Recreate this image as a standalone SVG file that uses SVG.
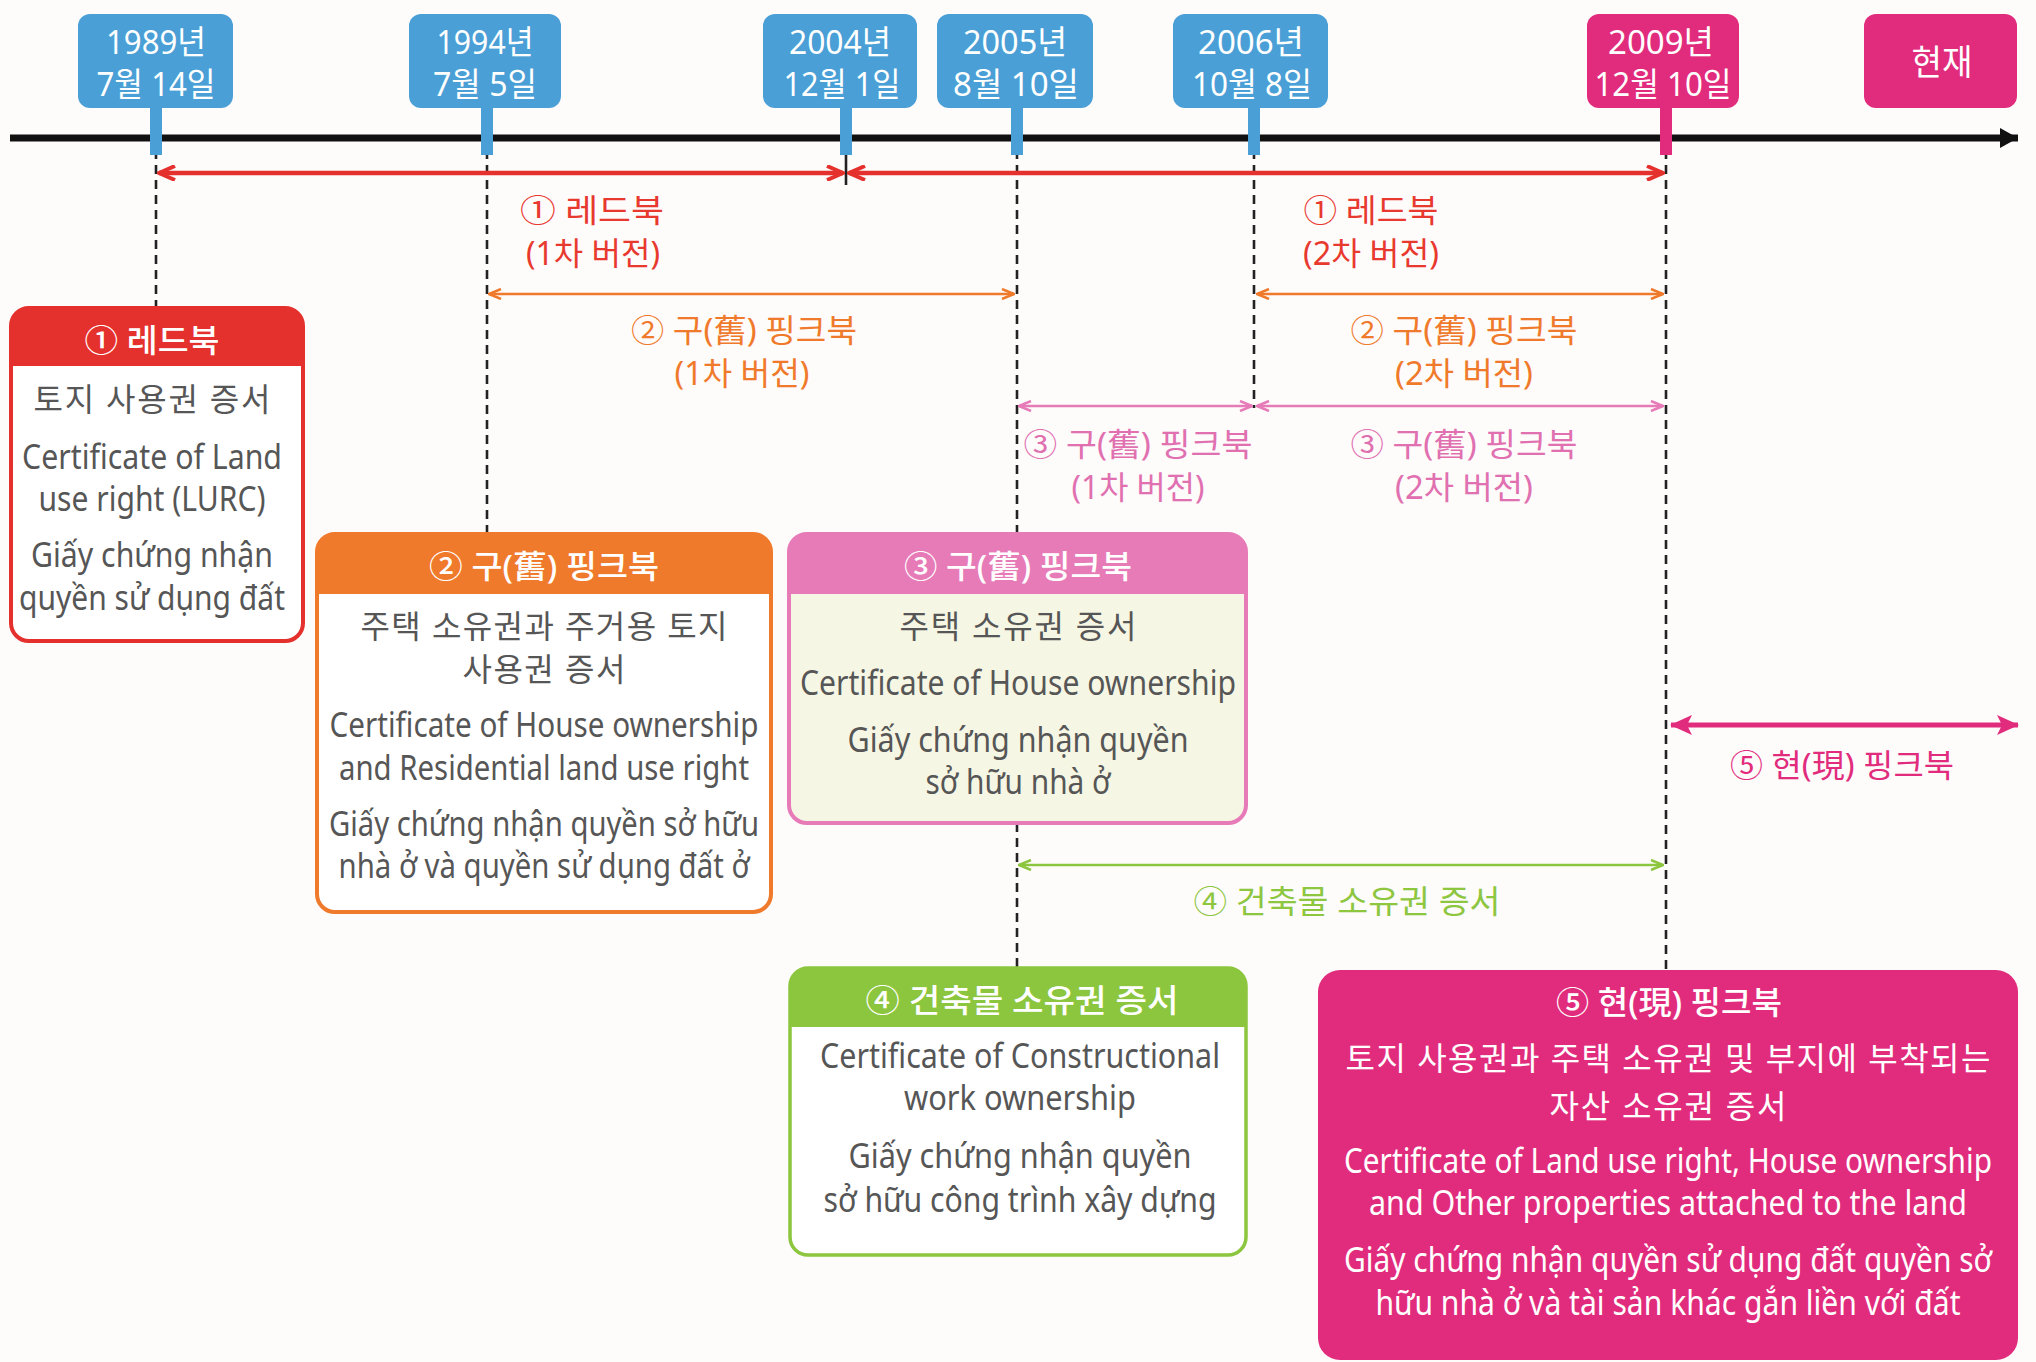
<svg xmlns="http://www.w3.org/2000/svg" width="2036" height="1362" viewBox="0 0 2036 1362">
<defs>
<style>
text{font-family:"Noto Sans","Noto Sans CJK KR",sans-serif;text-anchor:middle}
.date{font-size:33px;fill:#fff}
.body{font-size:34px;fill:#565656}
.kb{font-size:32px;fill:#565656}
.hd{font-size:32px;fill:#fff;font-weight:500}
.lbl{font-size:32px}
.wt{fill:#fff}
.dash{stroke:#222;stroke-width:2.6;stroke-dasharray:9 6;fill:none}
.blue{fill:#4a9fd6}
.mag{fill:#e12c7d}
</style>
<marker id="mRed" viewBox="0 0 20 16" refX="18" refY="8" markerWidth="20" markerHeight="16" markerUnits="userSpaceOnUse" orient="auto-start-reverse"><path d="M2,1 L18,8 L2,15" fill="none" stroke="#e5312d" stroke-width="4"/></marker>
<marker id="mOr" viewBox="0 0 14 12" refX="13" refY="6" markerWidth="14" markerHeight="12" markerUnits="userSpaceOnUse" orient="auto-start-reverse"><path d="M1,1 L13,6 L1,11" fill="none" stroke="#f07a2b" stroke-width="2.5"/></marker>
<marker id="mPk" viewBox="0 0 14 12" refX="13" refY="6" markerWidth="14" markerHeight="12" markerUnits="userSpaceOnUse" orient="auto-start-reverse"><path d="M1,1 L13,6 L1,11" fill="none" stroke="#e77bb8" stroke-width="2.5"/></marker>
<marker id="mGr" viewBox="0 0 14 12" refX="13" refY="6" markerWidth="14" markerHeight="12" markerUnits="userSpaceOnUse" orient="auto-start-reverse"><path d="M1,1 L13,6 L1,11" fill="none" stroke="#8cc63e" stroke-width="2.5"/></marker>
<marker id="mMag" viewBox="0 0 22 20" refX="21" refY="10" markerWidth="22" markerHeight="20" markerUnits="userSpaceOnUse" orient="auto-start-reverse"><path d="M0,0 L22,10 L0,20 L5,10 Z" fill="#e12c7d"/></marker>
<marker id="mAx" viewBox="0 0 18 20" refX="18" refY="10" markerWidth="18" markerHeight="20" markerUnits="userSpaceOnUse" orient="auto"><path d="M0,0 L18,10 L0,20 Z" fill="#111"/></marker>
</defs>
<rect x="0" y="0" width="2036" height="1362" fill="#fefbfb"/>

<g id="connectors">
<line x1="10" y1="138" x2="2018" y2="138" stroke="#111" stroke-width="7" marker-end="url(#mAx)"/>
<line class="dash" x1="156" y1="150" x2="156" y2="308"/>
<line class="dash" x1="487" y1="150" x2="487" y2="534"/>
<line x1="846" y1="150" x2="846" y2="185" stroke="#222" stroke-width="2.6"/>
<line class="dash" x1="1017" y1="150" x2="1017" y2="534"/>
<line class="dash" x1="1017" y1="823" x2="1017" y2="968"/>
<line class="dash" x1="1254" y1="150" x2="1254" y2="408"/>
<line class="dash" x1="1666" y1="150" x2="1666" y2="970"/>
<line x1="159" y1="173" x2="843" y2="173" stroke="#e5312d" stroke-width="4.5" marker-start="url(#mRed)" marker-end="url(#mRed)"/>
<line x1="849" y1="173" x2="1663" y2="173" stroke="#e5312d" stroke-width="4.5" marker-start="url(#mRed)" marker-end="url(#mRed)"/>
<line x1="489" y1="294" x2="1014" y2="294" stroke="#f07a2b" stroke-width="2.5" marker-start="url(#mOr)" marker-end="url(#mOr)"/>
<line x1="1257" y1="294" x2="1663" y2="294" stroke="#f07a2b" stroke-width="2.5" marker-start="url(#mOr)" marker-end="url(#mOr)"/>
<line x1="1019" y1="406" x2="1252" y2="406" stroke="#e77bb8" stroke-width="2.5" marker-start="url(#mPk)" marker-end="url(#mPk)"/>
<line x1="1257" y1="406" x2="1663" y2="406" stroke="#e77bb8" stroke-width="2.5" marker-start="url(#mPk)" marker-end="url(#mPk)"/>
<line x1="1019" y1="865" x2="1663" y2="865" stroke="#8cc63e" stroke-width="2.5" marker-start="url(#mGr)" marker-end="url(#mGr)"/>
<line x1="1671" y1="725" x2="2018" y2="725" stroke="#e12c7d" stroke-width="5" marker-start="url(#mMag)" marker-end="url(#mMag)"/>
</g>

<g id="dates">
<g id="d1989"><rect class="blue" x="150" y="100" width="12" height="55"/><rect class="blue" x="78" y="14" width="155" height="94" rx="12"/>
<text class="date" x="156" y="54" textLength="100" lengthAdjust="spacingAndGlyphs">1989년</text><text class="date" x="156" y="96" textLength="119" lengthAdjust="spacingAndGlyphs">7월 14일</text></g>
<g id="d1994"><rect class="blue" x="481" y="100" width="12" height="55"/><rect class="blue" x="409" y="14" width="152" height="94" rx="12"/>
<text class="date" x="485" y="54" textLength="97" lengthAdjust="spacingAndGlyphs">1994년</text><text class="date" x="485" y="96" textLength="104" lengthAdjust="spacingAndGlyphs">7월 5일</text></g>
<g id="d2004"><rect class="blue" x="840" y="100" width="12" height="55"/><rect class="blue" x="763" y="14" width="154" height="94" rx="12"/>
<text class="date" x="840" y="54" textLength="102" lengthAdjust="spacingAndGlyphs">2004년</text><text class="date" x="842" y="96" textLength="117" lengthAdjust="spacingAndGlyphs">12월 1일</text></g>
<g id="d2005"><rect class="blue" x="1011" y="100" width="12" height="55"/><rect class="blue" x="937" y="14" width="156" height="94" rx="12"/>
<text class="date" x="1015" y="54" textLength="104" lengthAdjust="spacingAndGlyphs">2005년</text><text class="date" x="1016" y="96" textLength="126" lengthAdjust="spacingAndGlyphs">8월 10일</text></g>
<g id="d2006"><rect class="blue" x="1248" y="100" width="12" height="55"/><rect class="blue" x="1173" y="14" width="155" height="94" rx="12"/>
<text class="date" x="1251" y="54" textLength="106" lengthAdjust="spacingAndGlyphs">2006년</text><text class="date" x="1252" y="96" textLength="120" lengthAdjust="spacingAndGlyphs">10월 8일</text></g>
<g id="d2009"><rect class="mag" x="1660" y="100" width="12" height="55"/><rect class="mag" x="1587" y="14" width="152" height="94" rx="12"/>
<text class="date" x="1661" y="54" textLength="106" lengthAdjust="spacingAndGlyphs">2009년</text><text class="date" x="1663" y="96" textLength="137" lengthAdjust="spacingAndGlyphs">12월 10일</text></g>
<g id="dnow"><rect class="mag" x="1864" y="14" width="153" height="94" rx="12"/>
<text class="date" x="1942" y="75" style="font-size:35px" textLength="61" lengthAdjust="spacingAndGlyphs">현재</text></g>
</g>

<g id="labels">
<g fill="#e8392f">
<text class="lbl" x="592" y="222" textLength="144" lengthAdjust="spacingAndGlyphs">①  레드북</text>
<text class="lbl" x="593" y="265" textLength="134" lengthAdjust="spacingAndGlyphs">(1차 버전)</text>
<text class="lbl" x="1371" y="222" textLength="135" lengthAdjust="spacingAndGlyphs">① 레드북</text>
<text class="lbl" x="1371" y="265" textLength="136" lengthAdjust="spacingAndGlyphs">(2차 버전)</text>
</g>
<g fill="#f07a2b">
<text class="lbl" x="744" y="342" textLength="226" lengthAdjust="spacingAndGlyphs">② 구(舊) 핑크북</text>
<text class="lbl" x="742" y="385" textLength="135" lengthAdjust="spacingAndGlyphs">(1차 버전)</text>
<text class="lbl" x="1464" y="342" textLength="227" lengthAdjust="spacingAndGlyphs">② 구(舊) 핑크북</text>
<text class="lbl" x="1464" y="385" textLength="138" lengthAdjust="spacingAndGlyphs">(2차 버전)</text>
</g>
<g fill="#e070b0">
<text class="lbl" x="1138" y="456" textLength="229" lengthAdjust="spacingAndGlyphs">③ 구(舊) 핑크북</text>
<text class="lbl" x="1138" y="499" textLength="133" lengthAdjust="spacingAndGlyphs">(1차 버전)</text>
<text class="lbl" x="1464" y="456" textLength="227" lengthAdjust="spacingAndGlyphs">③ 구(舊) 핑크북</text>
<text class="lbl" x="1464" y="499" textLength="138" lengthAdjust="spacingAndGlyphs">(2차 버전)</text>
</g>
<text class="lbl" x="1347" y="913" fill="#8dc63f" textLength="307" lengthAdjust="spacingAndGlyphs">④ 건축물 소유권 증서</text>
<text class="lbl" x="1842" y="777" fill="#e12c7d" textLength="224" lengthAdjust="spacingAndGlyphs">⑤ 현(現) 핑크북</text>
</g>

<g id="box1">
<rect x="11" y="308" width="292" height="333" rx="18" fill="#fff" stroke="#e5312d" stroke-width="4"/>
<path d="M11,366 V326 Q11,308 29,308 H285 Q303,308 303,326 V366 Z" fill="#e5312d"/>
<text class="hd" x="152" y="352" textLength="135" lengthAdjust="spacingAndGlyphs">① 레드북</text>
<text class="kb" x="152" y="411" textLength="237" lengthAdjust="spacing">토지 사용권 증서</text>
<text class="body" x="152" y="469" textLength="260" lengthAdjust="spacingAndGlyphs">Certificate of Land</text>
<text class="body" x="152" y="511" textLength="227" lengthAdjust="spacingAndGlyphs">use right (LURC)</text>
<text class="body" x="152" y="567" textLength="242" lengthAdjust="spacingAndGlyphs">Giấy chứng nhận</text>
<text class="body" x="152" y="610" textLength="266" lengthAdjust="spacingAndGlyphs">quyền sử dụng đất</text>
</g>

<g id="box2">
<rect x="317" y="534" width="454" height="378" rx="18" fill="#fff" stroke="#f07a2b" stroke-width="4"/>
<path d="M317,594 V552 Q317,534 335,534 H753 Q771,534 771,552 V594 Z" fill="#f07a2b"/>
<text class="hd" x="544" y="578" textLength="230" lengthAdjust="spacingAndGlyphs">② 구(舊) 핑크북</text>
<text class="kb" x="544" y="638" textLength="367" lengthAdjust="spacing">주택 소유권과 주거용 토지</text>
<text class="kb" x="544" y="681" textLength="163" lengthAdjust="spacing">사용권 증서</text>
<text class="body" x="544" y="737" textLength="429" lengthAdjust="spacingAndGlyphs">Certificate of House ownership</text>
<text class="body" x="544" y="780" textLength="410" lengthAdjust="spacingAndGlyphs">and Residential land use right</text>
<text class="body" x="544" y="836" textLength="430" lengthAdjust="spacingAndGlyphs">Giấy chứng nhận quyền sở hữu</text>
<text class="body" x="544" y="878" textLength="411" lengthAdjust="spacingAndGlyphs">nhà ở và quyền sử dụng đất ở</text>
</g>

<g id="box3">
<rect x="789" y="534" width="457" height="289" rx="18" fill="#f6f6e4" stroke="#e77bb8" stroke-width="4"/>
<path d="M789,594 V552 Q789,534 807,534 H1228 Q1246,534 1246,552 V594 Z" fill="#e77bb8"/>
<text class="hd" x="1018" y="578" textLength="228" lengthAdjust="spacingAndGlyphs">③ 구(舊) 핑크북</text>
<text class="kb" x="1018" y="638" textLength="237" lengthAdjust="spacing">주택 소유권 증서</text>
<text class="body" x="1018" y="695" textLength="436" lengthAdjust="spacingAndGlyphs">Certificate of House ownership</text>
<text class="body" x="1018" y="752" textLength="341" lengthAdjust="spacingAndGlyphs">Giấy chứng nhận quyền</text>
<text class="body" x="1018" y="794" textLength="185" lengthAdjust="spacingAndGlyphs">sở hữu nhà ở</text>
</g>

<g id="box4">
<rect x="790" y="968" width="456" height="287" rx="18" fill="#fff" stroke="#8cc63e" stroke-width="3.5"/>
<path d="M790,1027 V986 Q790,968 808,968 H1228 Q1246,968 1246,986 V1027 Z" fill="#8cc63e"/>
<text class="hd" x="1022" y="1012" textLength="313" lengthAdjust="spacingAndGlyphs">④ 건축물 소유권 증서</text>
<text class="body" x="1020" y="1068" textLength="400" lengthAdjust="spacingAndGlyphs">Certificate of Constructional</text>
<text class="body" x="1020" y="1110" textLength="232" lengthAdjust="spacingAndGlyphs">work ownership</text>
<text class="body" x="1020" y="1168" textLength="343" lengthAdjust="spacingAndGlyphs">Giấy chứng nhận quyền</text>
<text class="body" x="1020" y="1212" textLength="393" lengthAdjust="spacingAndGlyphs">sở hữu công trình xây dựng</text>
</g>

<g id="box5">
<rect x="1318" y="970" width="700" height="390" rx="22" fill="#e12c7d"/>
<text class="hd" x="1669" y="1014" textLength="226" lengthAdjust="spacingAndGlyphs">⑤ 현(現) 핑크북</text>
<text class="kb wt" x="1668" y="1070" style="fill:#fff" textLength="645" lengthAdjust="spacing">토지 사용권과 주택 소유권 및 부지에 부착되는</text>
<text class="kb wt" x="1668" y="1118" style="fill:#fff" textLength="237" lengthAdjust="spacing">자산 소유권 증서</text>
<text class="body wt" x="1668" y="1173" style="fill:#fff" textLength="648" lengthAdjust="spacingAndGlyphs">Certificate of Land use right, House ownership</text>
<text class="body wt" x="1668" y="1215" style="fill:#fff" textLength="598" lengthAdjust="spacingAndGlyphs">and Other properties attached to the land</text>
<text class="body wt" x="1668" y="1272" style="fill:#fff" textLength="648" lengthAdjust="spacingAndGlyphs">Giấy chứng nhận quyền sử dụng đất quyền sở</text>
<text class="body wt" x="1668" y="1315" style="fill:#fff" textLength="585" lengthAdjust="spacingAndGlyphs">hữu nhà ở và tài sản khác gắn liền với đất</text>
</g>
</svg>
